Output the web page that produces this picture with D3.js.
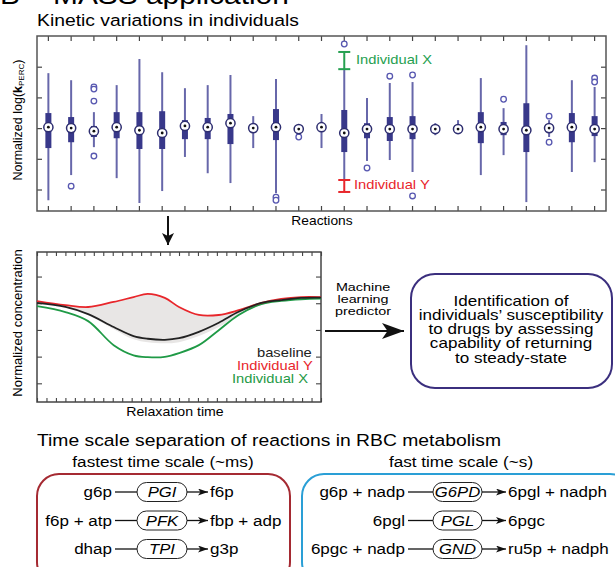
<!DOCTYPE html>
<html>
<head>
<meta charset="utf-8">
<script src="https://cdn.jsdelivr.net/npm/d3@7.9.0/dist/d3.min.js"></script>
<style>
  html, body { margin: 0; padding: 0; background: #fff; overflow: hidden; }
  svg { display: block; }
  text { font-family: "Liberation Sans", Arial, sans-serif; }
</style>
</head>
<body>
<svg id="fig" width="615" height="567"></svg>
<script>
// ===== DATA: kinetic variations (normalized log k) =====
const reactions = ["R1","R2","R3","R4","R5","R6","R7","R8","R9","R10","R11","R12","R13",
  "R14","R15","R16","R17","R18","R19","R20","R21","R22","R23","R24","R25"];
const whiskerHigh = [1.79,1.56,0.52,1.40,2.25,1.82,1.30,1.40,1.73,0.39,1.60,0.07,0.46,1.92,0.98,1.47,1.50,0.16,0.26,1.63,0.65,2.70,0.26,1.56,1.34];
const whiskerLow = [-2.35,-1.53,-0.62,-1.63,-2.44,-2.05,-0.94,-1.47,-1.79,-0.65,-2.12,-0.13,-0.65,-1.69,-1.07,-1.04,-1.43,-0.23,-0.16,-1.53,-0.88,-2.41,-0.29,-1.43,-1.11];
const q3 = [0.49,0.36,0.07,0.52,0.52,0.55,0.26,0.33,0.46,0.10,0.62,0.03,0.13,0.59,0.16,0.36,0.39,0.05,0.05,0.52,0.20,0.81,0.03,0.49,0.39];
const q1 = [-0.65,-0.46,-0.29,-0.33,-0.68,-0.68,-0.36,-0.36,-0.52,-0.13,-0.39,-0.10,-0.10,-0.78,-0.33,-0.42,-0.36,-0.10,-0.10,-0.49,-0.23,-0.78,-0.03,-0.46,-0.26];
const medians = [0.03,0,-0.10,0.03,-0.07,-0.16,0.07,0.03,0.16,0,0.03,-0.03,0.03,-0.16,-0.03,-0.03,-0.03,-0.03,-0.03,0.03,-0.03,-0.07,0,0.03,-0.03];
const outliers = [[],[-1.89],[1.34,1.27,0.88,-0.91],[],[],[],[],[],[],[],[-2.25,-2.35],[-0.29],[],[2.74],[-1.30],[1.69],[1.73,-2.21],[],[],[],[0.94],[],[0.39,-0.46],[],[1.63,1.50]];
const boxTicks = [-2, -1, 0, 1, 2];
const highlightReaction = "R14";
const individualXRange = [1.92, 2.48];
const individualYRange = [-1.69, -2.08];

// ===== DATA: relaxation curves =====
const relaxTime = [0, 0.1, 0.18, 0.27, 0.34, 0.39, 0.45, 0.5, 0.57, 0.64, 0.71, 0.79, 0.86, 0.93, 1];
const redCurve = [4.08,3.93,3.86,4.05,4.23,4.35,4.20,3.86,3.56,3.56,3.74,4.01,4.16,4.23,4.23];
const baselineCurve = [4.01,3.86,3.59,3.11,2.77,2.67,2.63,2.69,2.93,3.27,3.68,4.01,4.12,4.20,4.21];
const greenCurve = [3.89,3.67,3.33,2.43,2.05,1.98,1.99,2.13,2.43,2.99,3.56,3.97,4.09,4.15,4.17];
const bandLow = [4.01,3.86,3.56,3.03,2.65,2.54,2.50,2.54,2.77,3.11,3.56,3.93,4.12,4.20,4.20];
const concTicks = [1, 2, 3, 4, 5];
const legendLabels = ["baseline", "Individual Y", "Individual X"];

// ===== DATA: time scale separation =====
const fastestSubs = ["g6p", "f6p + atp", "dhap"];
const fastestEnz = ["PGI", "PFK", "TPI"];
const fastestProds = ["f6p", "fbp + adp", "g3p"];
const fastSubs = ["g6p + nadp", "6pgl", "6pgc + nadp"];
const fastEnz = ["G6PD", "PGL", "GND"];
const fastProds = ["6pgl + nadph", "6pgc", "ru5p + nadph"];

const boxDark = "#38388a", whiskerCol = "#6767aa", green = "#25a050", red = "#e8262b";
const SX = 1.15; // the figure's lettering is a bit wide

const svg = d3.select("#fig");

// horizontal text, slightly stretched
function txt(parent, x, y, str, size, anchor = "start", sx = SX) {
  return parent.append("text")
    .attr("transform", `translate(${x},${y}) scale(${sx},1)`)
    .attr("font-size", size + "px")
    .attr("text-anchor", anchor)
    .text(str);
}

// arrowheads
const defs = svg.append("defs");
function marker(id, w, h) {
  defs.append("marker")
    .attr("id", id).attr("markerUnits", "userSpaceOnUse")
    .attr("markerWidth", w).attr("markerHeight", h)
    .attr("refX", w).attr("refY", h / 2).attr("orient", "auto")
    .append("path").attr("d", `M0,0 L${w},${h / 2} L0,${h} L${w * 0.25},${h / 2} Z`).attr("fill", "#111");
}
marker("arrSmall", 10, 7);
marker("arrBig", 22, 16);
marker("arrDown", 12, 12);

// ===== HEADERS =====
// top line is cropped in the original figure
txt(svg, 0, 4, "B", 26);
txt(svg, 53, 4, "MASS application", 26);
txt(svg, 37, 26, "Kinetic variations in individuals", 16.8);

// ===== BOX PLOT =====
const x = d3.scaleBand().domain(reactions).range([37, 606]);
const y = d3.scaleLinear().domain([-2.7, 3.0]).range([211, 36]);
const cx = r => x(r) + x.bandwidth() / 2;

const frame1 = svg.append("g");
frame1.append("g").attr("transform", "translate(37,0)")
  .call(d3.axisLeft(y).tickValues(boxTicks).tickSize(-5).tickFormat(""));
frame1.append("g").attr("transform", "translate(606,0)")
  .call(d3.axisRight(y).tickValues(boxTicks).tickSize(-5).tickFormat(""));
frame1.append("g").attr("transform", "translate(0,36)")
  .call(d3.axisTop(x).tickSize(-5).tickFormat(""));
frame1.append("g").attr("transform", "translate(0,211)")
  .call(d3.axisBottom(x).tickSize(-5).tickFormat(""));
frame1.selectAll(".domain").remove();
frame1.selectAll(".tick line").attr("stroke", "#444").attr("stroke-width", 1.2);
frame1.append("rect").attr("x", 37).attr("y", 36).attr("width", 569).attr("height", 175)
  .attr("fill", "none").attr("stroke", "#555").attr("stroke-width", 1.5);

const boxes = svg.append("g");
reactions.forEach((r, i) => {
  const g = boxes.append("g");
  g.append("line").attr("x1", cx(r)).attr("x2", cx(r))
    .attr("y1", y(whiskerHigh[i])).attr("y2", y(whiskerLow[i]))
    .attr("stroke", whiskerCol).attr("stroke-width", 2);
  g.append("rect").attr("x", cx(r) - 3).attr("width", 6)
    .attr("y", y(q3[i])).attr("height", y(q1[i]) - y(q3[i]))
    .attr("fill", boxDark);
  outliers[i].forEach(v => {
    g.append("circle").attr("cx", cx(r)).attr("cy", y(v)).attr("r", 2.8)
      .attr("fill", "#fff").attr("stroke", "#5757b0").attr("stroke-width", 1.3);
  });
  g.append("circle").attr("cx", cx(r)).attr("cy", y(medians[i])).attr("r", 4.6)
    .attr("fill", "#fff").attr("stroke", "#2e2e70").attr("stroke-width", 1.5);
  g.append("circle").attr("cx", cx(r)).attr("cy", y(medians[i])).attr("r", 1.4).attr("fill", "#111");
});

// individual brackets
function bracket(range, color) {
  const hx = cx(highlightReaction);
  const g = svg.append("g").attr("stroke", color).attr("stroke-width", 2);
  g.append("line").attr("x1", hx).attr("x2", hx).attr("y1", y(range[0])).attr("y2", y(range[1]));
  range.forEach(v => g.append("line").attr("x1", hx - 6).attr("x2", hx + 6).attr("y1", y(v)).attr("y2", y(v)));
}
bracket(individualXRange, green);
bracket(individualYRange, red);
txt(svg, 356, 64, "Individual X", 12.8).attr("fill", green);
txt(svg, 354, 189, "Individual Y", 12.8).attr("fill", red);

svg.append("text").attr("transform", "translate(22,120) rotate(-90)")
  .attr("text-anchor", "middle").attr("font-size", "12.5px")
  .call(t => {
    t.append("tspan").text("Normalized log(");
    t.append("tspan").attr("font-weight", "bold").text("k");
    t.append("tspan").attr("font-size", "8px").attr("dy", 2).text("PERC");
    t.append("tspan").attr("dy", -2).text(")");
  });
txt(svg, 322, 225, "Reactions", 12, "middle");

// down arrow
svg.append("line").attr("x1", 168).attr("x2", 168).attr("y1", 216).attr("y2", 245)
  .attr("stroke", "#111").attr("stroke-width", 2).attr("marker-end", "url(#arrDown)");

// ===== RELAXATION CHART =====
const tx = d3.scaleLinear().domain([0, 1]).range([37, 321]);
const cy = d3.scaleLinear().domain([0.3, 5.92]).range([402, 252]);
const frame2 = svg.append("g");
const minorTicks = d3.range(31).map(k => k / 30);
frame2.append("g").attr("transform", "translate(0,402)")
  .call(d3.axisBottom(tx).tickValues(minorTicks).tickSize(-4).tickFormat(""));
frame2.append("g").attr("transform", "translate(0,252)")
  .call(d3.axisTop(tx).tickValues(minorTicks).tickSize(-4).tickFormat(""));
frame2.append("g").attr("transform", "translate(37,0)")
  .call(d3.axisLeft(cy).tickValues(concTicks).tickSize(-5).tickFormat(""));
frame2.append("g").attr("transform", "translate(321,0)")
  .call(d3.axisRight(cy).tickValues(concTicks).tickSize(-5).tickFormat(""));
frame2.selectAll(".domain").remove();
frame2.selectAll(".tick line").attr("stroke", "#444").attr("stroke-width", 1.1);

const curve = d3.curveCatmullRom.alpha(0.5);
const area = d3.area().x((d, i) => tx(relaxTime[i])).y0((d, i) => cy(bandLow[i])).y1(d => cy(d))
  .curve(curve);
svg.append("path").datum(redCurve).attr("d", area).attr("fill", "#e8e6e5");

const line = d3.line().x((d, i) => tx(relaxTime[i])).y(d => cy(d)).curve(curve);
[[greenCurve, "#1f9a46"], [redCurve, red], [baselineCurve, "#222"]].forEach(([data, color]) => {
  svg.append("path").datum(data).attr("d", line).attr("fill", "none")
    .attr("stroke", color).attr("stroke-width", 1.8);
});
frame2.append("rect").attr("x", 37).attr("y", 252).attr("width", 284).attr("height", 150)
  .attr("fill", "none").attr("stroke", "#444").attr("stroke-width", 1.5);

const legendX = [257, 237, 232], legendY = [357, 370, 383], legendCol = ["#222", red, "#1f9a46"];
legendLabels.forEach((lab, i) => {
  txt(svg, legendX[i], legendY[i], lab, 12.8).attr("fill", legendCol[i]);
});
svg.append("text").attr("transform", "translate(22,323) rotate(-90)")
  .attr("text-anchor", "middle").attr("font-size", "13px").text("Normalized concentration");
txt(svg, 175, 416, "Relaxation time", 12.3, "middle");

// ===== PREDICTOR ARROW + OUTCOME BOX =====
svg.append("line").attr("x1", 325).attr("x2", 404).attr("y1", 331).attr("y2", 331)
  .attr("stroke", "#111").attr("stroke-width", 2).attr("marker-end", "url(#arrBig)");
["Machine", "learning", "predictor"].forEach((s, i) => {
  txt(svg, 363, 291 + i * 12, s, 11.5, "middle", 1.25);
});
svg.append("rect").attr("x", 411).attr("y", 274).attr("width", 201).attr("height", 114)
  .attr("rx", 24).attr("fill", "#fff").attr("stroke", "#3b2f7e").attr("stroke-width", 2);
["Identification of", "individuals\u2019 susceptibility", "to drugs by assessing",
  "capability of returning", "to steady-state"].forEach((s, i) => {
  txt(svg, 511, 305.5 + i * 14.3, s, 14, "middle", 1.22);
});

// ===== TIME SCALE SEPARATION =====
txt(svg, 37, 446, "Time scale separation of reactions in RBC metabolism", 16.8);
txt(svg, 163, 467, "fastest time scale (~ms)", 14.9, "middle");
txt(svg, 461, 467, "fast time scale (~s)", 14.9, "middle");

svg.append("rect").attr("x", 37).attr("y", 474).attr("width", 253).attr("height", 110)
  .attr("rx", 22).attr("fill", "none").attr("stroke", "#a52a32").attr("stroke-width", 2);
svg.append("rect").attr("x", 302).attr("y", 474).attr("width", 330).attr("height", 110)
  .attr("rx", 22).attr("fill", "none").attr("stroke", "#2a9fd6").attr("stroke-width", 2);

const rowY = d3.scalePoint().domain([0, 1, 2]).range([492, 549]);
function reactionsBlock(subs, enz, prods, subEnd, pillX, pillW, prodX) {
  subs.forEach((s, i) => {
    const yc = rowY(i);
    const g = svg.append("g");
    txt(g, subEnd, yc + 5, s, 14.8, "end");
    g.append("line").attr("x1", subEnd + 3).attr("x2", pillX).attr("y1", yc).attr("y2", yc)
      .attr("stroke", "#111").attr("stroke-width", 1.3);
    g.append("rect").attr("x", pillX).attr("y", yc - 9.5).attr("width", pillW).attr("height", 19)
      .attr("rx", 9.5).attr("fill", "#fff").attr("stroke", "#222").attr("stroke-width", 1);
    txt(g, pillX + pillW / 2, yc + 5, enz[i], 14.5, "middle").attr("font-style", "italic");
    g.append("line").attr("x1", pillX + pillW).attr("x2", prodX - 2).attr("y1", yc).attr("y2", yc)
      .attr("stroke", "#111").attr("stroke-width", 1.3).attr("marker-end", "url(#arrSmall)");
    txt(g, prodX, yc + 5, prods[i], 14.8);
  });
}
reactionsBlock(fastestSubs, fastestEnz, fastestProds, 112, 137, 50, 210);
reactionsBlock(fastSubs, fastEnz, fastProds, 405, 433, 49, 508);
</script>
</body>
</html>
